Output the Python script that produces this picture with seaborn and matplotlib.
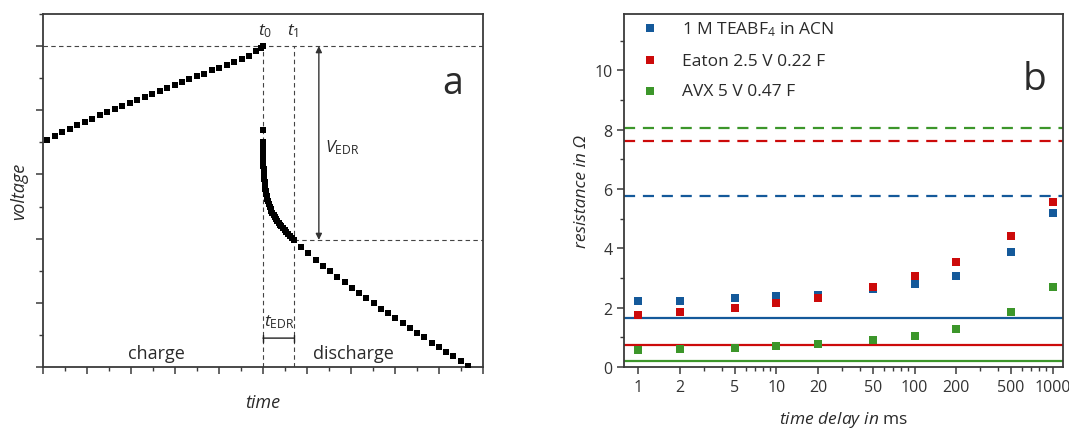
import matplotlib
matplotlib.use("Agg")
import matplotlib.pyplot as plt
import seaborn as sns
from matplotlib.ticker import MultipleLocator, FixedLocator, FixedFormatter, FormatStrFormatter

# ---------------- Panel a data (schematic voltage vs time) ----------------
charge_t = [0.10, 0.27, 0.44, 0.61, 0.78, 0.95, 1.12, 1.29, 1.46, 1.63,
            1.80, 1.97, 2.14, 2.31, 2.48, 2.65, 2.82, 2.99, 3.16, 3.33,
            3.50, 3.67, 3.84, 4.01, 4.18, 4.35, 4.52, 4.69, 4.84, 4.95, 5.00]
charge_v = [3.54, 3.60, 3.66, 3.71, 3.77, 3.82, 3.87, 3.92, 3.97, 4.02,
            4.07, 4.12, 4.16, 4.21, 4.26, 4.30, 4.35, 4.39, 4.44, 4.48,
            4.53, 4.57, 4.62, 4.66, 4.71, 4.75, 4.80, 4.85, 4.92, 4.97, 5.00]

discharge_t = [5.000, 5.000, 5.000, 5.000, 5.001, 5.003, 5.005, 5.008, 5.011, 5.015,
               5.019, 5.024, 5.030, 5.037, 5.045, 5.054, 5.064, 5.075, 5.088, 5.102,
               5.117, 5.134, 5.152, 5.172, 5.193, 5.216, 5.240, 5.266, 5.294, 5.323,
               5.354, 5.386, 5.420, 5.455, 5.492, 5.530, 5.570, 5.610, 5.655, 5.700,
               5.87, 6.03, 6.20, 6.36, 6.53, 6.69, 6.86, 7.02, 7.19, 7.35,
               7.52, 7.68, 7.85, 8.01, 8.18, 8.34, 8.51, 8.67, 8.84, 9.00,
               9.17, 9.33, 9.50, 9.66]
discharge_v = [3.69, 3.51, 3.46, 3.41, 3.35, 3.29, 3.23, 3.18, 3.13, 3.08,
               3.03, 2.98, 2.93, 2.88, 2.83, 2.78, 2.74, 2.70, 2.66, 2.62,
               2.58, 2.54, 2.50, 2.46, 2.43, 2.40, 2.37, 2.34, 2.31, 2.28,
               2.25, 2.22, 2.19, 2.16, 2.13, 2.10, 2.07, 2.04, 2.01, 1.98,
               1.87, 1.77, 1.67, 1.58, 1.49, 1.40, 1.32, 1.23, 1.15, 1.07,
               0.99, 0.91, 0.84, 0.76, 0.68, 0.61, 0.53, 0.46, 0.38, 0.31,
               0.24, 0.17, 0.09, 0.02]

t0 = 5.0
t1 = 5.70
v_top = 5.0
v_t1 = 1.98
arrow_x = 6.27

# ---------------- Panel b data (resistance vs time delay) ----------------
delays = [1, 2, 5, 10, 20, 50, 100, 200, 500, 1000]
delay_labels = ["1", "2", "5", "10", "20", "50", "100", "200", "500", "1000"]
r_teabf4 = [2.21, 2.24, 2.32, 2.39, 2.44, 2.63, 2.79, 3.07, 3.87, 5.18]
r_eaton = [1.74, 1.85, 1.98, 2.15, 2.33, 2.69, 3.06, 3.53, 4.43, 5.57]
r_avx = [0.58, 0.62, 0.65, 0.70, 0.76, 0.90, 1.04, 1.28, 1.85, 2.68]
series_names = ["1 M TEABF$_4$ in ACN", "Eaton 2.5 V 0.22 F", "AVX 5 V 0.47 F"]
series_colors = ["#14599a", "#cc0a0a", "#3c962a"]
esr_solid = [1.65, 0.75, 0.21]
esr_dashed = [5.75, 7.63, 8.05]

# ---------------- Style ----------------
sns.set_style("ticks")
plt.rcParams['font.family'] = ['Open Sans', 'DejaVu Sans']
plt.rcParams['mathtext.fontset'] = 'custom'
plt.rcParams['mathtext.rm'] = 'Open Sans'
plt.rcParams['mathtext.it'] = 'Open Sans:italic'
plt.rcParams['mathtext.default'] = 'it'

spine_col = '#3a3a3a'
txt_col = '#2a2a2a'

fig = plt.figure(figsize=(10.69, 4.31), dpi=100)
axa = fig.add_axes([0.0402, 0.1462, 0.4116, 0.819])
axb = fig.add_axes([0.584, 0.1462, 0.4104, 0.819])

for ax in (axa, axb):
    for sp in ax.spines.values():
        sp.set_color(spine_col)
        sp.set_linewidth(1.3)
        sp.set_visible(True)
    ax.tick_params(which='major', direction='out', length=5, width=1.1, color=spine_col)
    ax.tick_params(which='minor', direction='out', length=3, width=1.0, color=spine_col)

# ---------------- Panel a ----------------
sns.scatterplot(x=charge_t, y=charge_v, marker='s', s=25, color='black',
                linewidth=0, ax=axa, zorder=3)
sns.scatterplot(x=discharge_t, y=discharge_v, marker='s', s=25, color='black',
                linewidth=0, ax=axa, zorder=3)
axa.set_xlim(0, 10)
axa.set_ylim(0, 5.5)
axa.xaxis.set_major_locator(MultipleLocator(1))
axa.xaxis.set_minor_locator(MultipleLocator(0.5))
axa.yaxis.set_major_locator(MultipleLocator(1))
axa.yaxis.set_minor_locator(MultipleLocator(0.5))
axa.tick_params(labelbottom=False, labelleft=False)

dash_kw = dict(color='#444444', lw=0.8, ls=(0, (4, 3)), zorder=2)
axa.axhline(v_top, **dash_kw)
axa.plot([t0, t0], [0, v_top], **dash_kw)
axa.plot([t1, t1], [0, v_top], **dash_kw)
axa.plot([t1, 10], [v_t1, v_t1], **dash_kw)

axa.annotate('', xy=(arrow_x, v_t1), xytext=(arrow_x, v_top),
             arrowprops=dict(arrowstyle='<|-|>', color='#333333', lw=1.0,
                             mutation_scale=9, shrinkA=0, shrinkB=0))
axa.annotate('', xy=(t1, 0.45), xytext=(t0, 0.45),
             arrowprops=dict(arrowstyle='|-|,widthA=0.25,widthB=0.25', color='#222222',
                             lw=1.0, mutation_scale=10, shrinkA=0, shrinkB=0))

axa.text(t0 + 0.05, 5.25, r'$t_0$', ha='center', va='center', fontsize=12.5, color=txt_col)
axa.text(t1 - 0.02, 5.25, r'$t_1$', ha='center', va='center', fontsize=12.5, color=txt_col)
axa.text(arrow_x + 0.15, 3.44, r'$V_\mathrm{EDR}$', ha='left', va='center', fontsize=12.5, color=txt_col)
axa.text((t0 + t1) / 2 + 0.02, 0.72, r'$t_\mathrm{EDR}$', ha='center', va='center', fontsize=12.5, color=txt_col)
axa.text(2.58, 0.22, 'charge', ha='center', va='center', fontsize=13, color=txt_col)
axa.text(7.05, 0.22, 'discharge', ha='center', va='center', fontsize=13, color=txt_col)
axa.text(9.32, 4.42, 'a', ha='center', va='center', fontsize=27, color=txt_col)

axa.set_xlabel('time', fontstyle='italic', fontsize=13, labelpad=12, color=txt_col)
axa.set_ylabel('voltage', fontstyle='italic', fontsize=13, labelpad=4, color=txt_col)

# ---------------- Panel b ----------------
for yv, col in zip(esr_solid, series_colors):
    axb.axhline(yv, color=col, lw=1.6, zorder=1.5)
for yv, col in zip(esr_dashed, series_colors):
    axb.axhline(yv, color=col, lw=1.6, ls=(0, (5, 3.5)), zorder=1.5)

for name, vals, col in zip(series_names, [r_teabf4, r_eaton, r_avx], series_colors):
    sns.scatterplot(x=delays, y=vals, marker='s', s=30, color=col, linewidth=0,
                    ax=axb, label=name, zorder=3)

axb.set_xscale('log')
axb.set_xlim(0.79, 1190)
axb.set_ylim(0, 11.9)
axb.xaxis.set_major_locator(FixedLocator(delays))
axb.xaxis.set_major_formatter(FixedFormatter(delay_labels))
axb.xaxis.set_minor_locator(FixedLocator([3, 4, 6, 7, 8, 9, 30, 40, 60, 70, 80, 90,
                                          300, 400, 600, 700, 800, 900]))
axb.yaxis.set_major_locator(MultipleLocator(2))
axb.yaxis.set_minor_locator(MultipleLocator(1))
axb.tick_params(which='both', labelsize=11.5, labelcolor='#333333')
axb.yaxis.set_major_formatter(FormatStrFormatter('%d'))

axb.legend(loc='upper left', bbox_to_anchor=(0.0388, 0.986), frameon=False,
           fontsize=12.5, handletextpad=1.35, labelspacing=0.85, handlelength=1.0,
           borderaxespad=0.0, borderpad=0.0, labelcolor=txt_col)
axb.text(0.936, 0.816, 'b', transform=axb.transAxes, ha='center', va='center',
         fontsize=28, color=txt_col)

axb.set_xlabel(r'$\mathit{time\ delay\ in}$ ms', fontsize=12.5, labelpad=10, color=txt_col)
axb.set_ylabel('resistance in Ω', fontstyle='italic', fontsize=12.5, labelpad=3, color=txt_col)

fig.savefig('out.png', dpi=100)
